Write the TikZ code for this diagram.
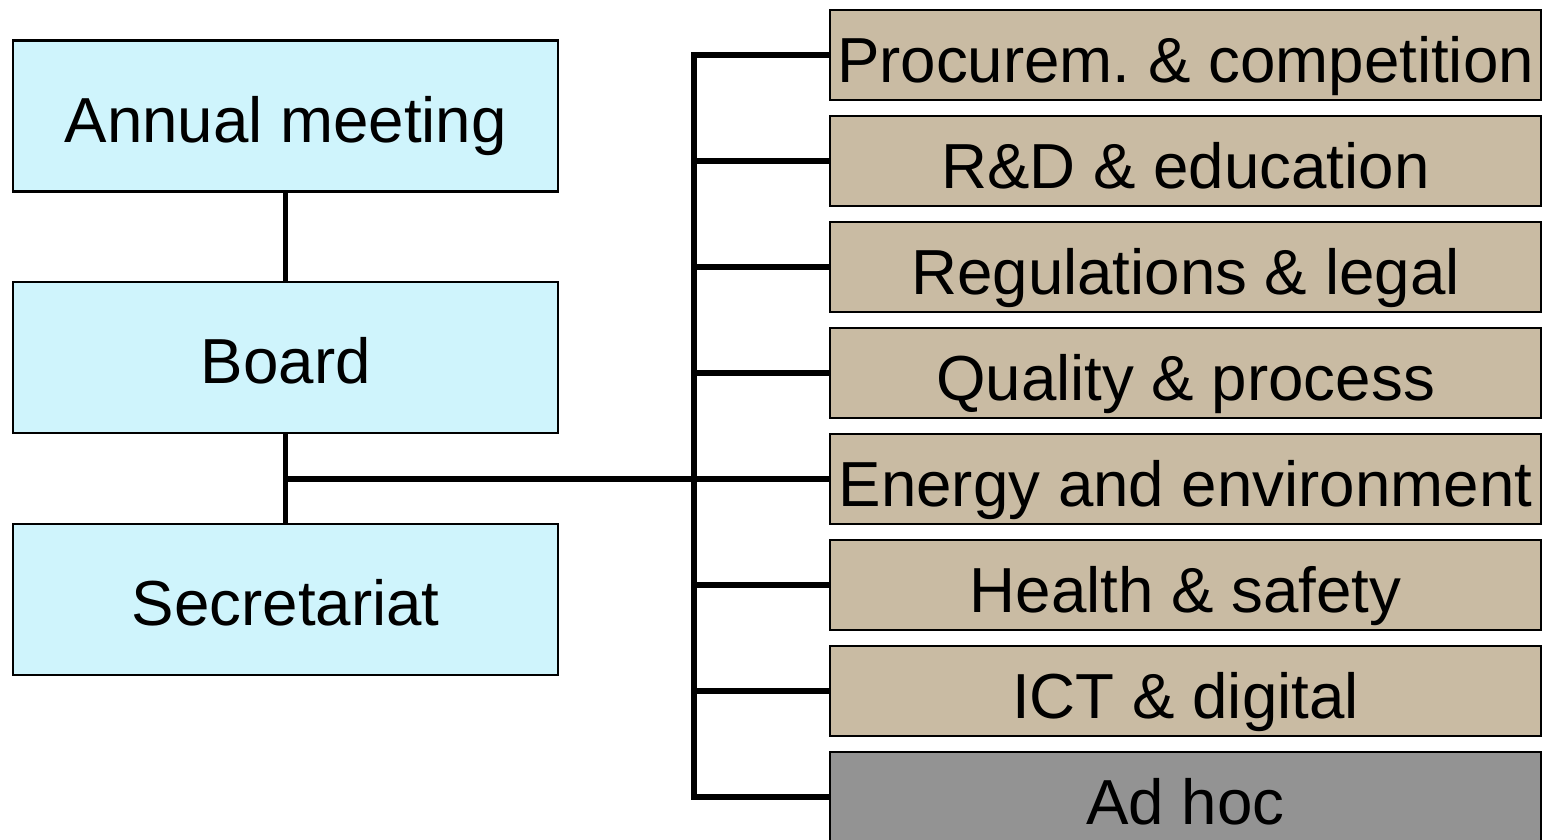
\documentclass[tikz,border=0pt]{standalone}
\usepackage{fontspec}
\setmainfont{Liberation Sans}
\usetikzlibrary{positioning}

\definecolor{orgblue}{RGB}{207,244,252}
\definecolor{orgtan}{RGB}{201,187,163}
\definecolor{orggray}{RGB}{147,147,147}

\begin{document}
\begin{tikzpicture}[x=0.01cm,y=-0.01cm,
	font=\fontsize{18.1}{20}\selectfont,
	orgbox/.style={draw,line width=0.6pt,inner sep=0pt,text height=0.52cm,text depth=0pt,
		fill=orgblue,minimum width=5.45cm,minimum height=1.51cm},
	groupbox/.style={draw,line width=0.6pt,inner sep=0pt,text height=0.54cm,text depth=0pt,
		fill=orgtan,minimum width=7.11cm,minimum height=0.9cm},
	link/.style={line width=1.45pt}]
	\useasboundingbox (0,0) rectangle (1549,839);

	\node[orgbox] (1) at (285.75,116) {Annual meeting};
	\node[orgbox] (2) at (285.75,357.5) {Board};
	\node[orgbox] (3) at (285.75,599.5) {Secretariat};

	\node[groupbox] (4) at (1185.5,55) {Procurem.\ \& competition};
	\node[groupbox] (5) at (1185.5,161) {R\&D \& education};
	\node[groupbox] (6) at (1185.5,267) {Regulations \& legal};
	\node[groupbox] (7) at (1185.5,373) {Quality \& process};
	\node[groupbox] (8) at (1185.5,479) {Energy and environment};
	\node[groupbox] (9) at (1185.5,585) {Health \& safety};
	\node[groupbox] (10) at (1185.5,691) {ICT \& digital};
	\node[groupbox,fill=orggray] (11) at (1185.5,797) {Ad hoc};

	\coordinate (bus) at (694,0);

	\path [link] (1) edge (2);
	\path [link] (2) edge (3);
	\path [link] (8.west) edge (8.west -| 2.south);
	\draw [link] (4.west) -- (4.west -| bus) -- (11.west -| bus) -- (11.west);
	\foreach \i in {5,...,10}
		\path [link] (\i.west) edge (\i.west -| bus);
\end{tikzpicture}
\end{document}
